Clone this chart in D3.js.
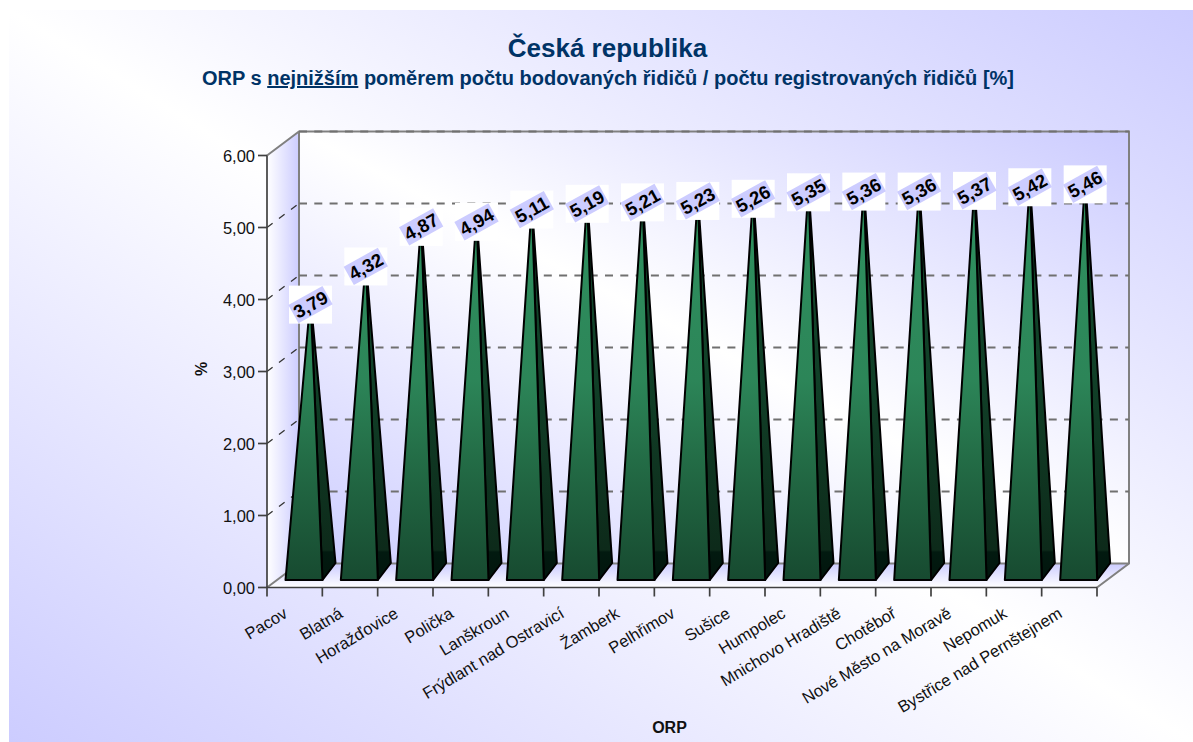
<!DOCTYPE html>
<html><head><meta charset="utf-8">
<script src="https://cdn.jsdelivr.net/npm/d3@7/dist/d3.min.js"></script>
<style>html,body{margin:0;padding:0;background:#fff}svg{display:block}text{font-family:"Liberation Sans",Arial,sans-serif}</style>
</head><body><svg id="c" width="1193" height="742"></svg>
<script>
const categories = ["Pacov","Blatná","Horažďovice","Polička","Lanškroun","Frýdlant nad Ostravicí","Žamberk","Pelhřimov","Sušice","Humpolec","Mnichovo Hradiště","Chotěboř","Nové Město na Moravě","Nepomuk","Bystřice nad Pernštejnem"];
const values = [3.79,4.32,4.87,4.94,5.11,5.19,5.21,5.23,5.26,5.35,5.36,5.36,5.37,5.42,5.46];
const yTicks = [0,1,2,3,4,5,6];
const titleText = "Česká republika";
const subtitleParts = ["ORP s ","nejnižším"," poměrem počtu bodovaných řidičů / počtu registrovaných řidičů [%]"];
const xTitle = "ORP", yTitle = "%";

const fmt = v => v.toFixed(2).replace(".", ",");
const svg = d3.select("#c"), defs = svg.append("defs");
const left = 267, right = 1097, y0 = 587.5, y6 = 155.5, dx = 32, dy = 24;
const x = d3.scaleBand().domain(categories).range([left, right]).paddingInner(0).paddingOuter(0);
const y = d3.scaleLinear().domain([0, 6]).range([y0, y6]);
const barInset = 18.5, barW = 37, barDx = 13, barDy = 17, baseY = y0 - 7.5;

function grad(id, stops, a) {
  const g = defs.append("linearGradient").attr("id", id);
  Object.entries(a).forEach(([k, v]) => g.attr(k, v));
  stops.forEach(s => g.append("stop").attr("offset", s[0]).attr("stop-color", s[1]));
}
const anti = {x1:0,y1:1,x2:1,y2:0};
const us = {gradientUnits:"userSpaceOnUse",x1:0,x2:0,y1:180,y2:580};
grad("bg", [[0,"#ccccff"],[.5,"#ffffff"],[1,"#ccccff"]], anti);
grad("wall", [[0,"#ccccff"],[.5,"#ffffff"],[1,"#ccccff"]], anti);
grad("lwall", [[0,"#ffffff"],[1,"#ccccff"]], {x1:0,y1:0,x2:1,y2:0});
grad("floor", [[0,"#ccccff"],[1,"#ffffff"]], {x1:0,y1:0,x2:0,y2:1});
grad("front", [[0,"#2f9260"],[.5,"#2c8558"],[.7,"#236c46"],[1,"#174a30"]], us);
grad("side", [[0,"#14492d"],[.5,"#114028"],[.925,"#0d2a1a"],[.93,"#021a10"],[1,"#02150d"]], us);

svg.append("rect").attr("x",9).attr("y",10).attr("width",1184).attr("height",732).attr("fill","url(#bg)");

const bw = left + dx, bh = right + dx;
const poly = pts => "M" + pts.map(p => p.join(",")).join("L") + "Z";
svg.append("path").attr("d", poly([[bw,y(6)-dy],[bh,y(6)-dy],[bh,y0-dy],[bw,y0-dy]])).attr("fill","url(#wall)");
svg.append("path").attr("d", poly([[left,y(6)],[bw,y(6)-dy],[bw,y0-dy],[left,y0]])).attr("fill","url(#lwall)");
svg.append("path").attr("d", poly([[left,y0],[bw,y0-dy],[bh,y0-dy],[right,y0]])).attr("fill","url(#floor)");

// wall edges
const edges = svg.append("g").attr("fill","none").attr("stroke","#808080").attr("stroke-width",2);
edges.append("path").attr("d", `M${left},${y(6)}L${bw},${y(6)-dy}L${bh},${y(6)-dy}L${bh},${y0-dy}L${right},${y0}`);
edges.append("path").attr("d", `M${left},${y0}L${bw},${y0-dy}L${bh},${y0-dy}M${bw},${y(6)-dy}L${bw},${y0-dy}`);

// gridlines
const grid = svg.append("g").attr("fill","none").attr("stroke","#707070").attr("stroke-width",2);
yTicks.slice(1).forEach(t => {
  grid.append("line").attr("x1",bw).attr("x2",bh).attr("y1",y(t)-dy).attr("y2",y(t)-dy).attr("stroke-dasharray","8 7.3");
  if (t < 6) grid.append("line").attr("x1",left).attr("x2",bw).attr("y1",y(t)).attr("y2",y(t)-dy).attr("stroke","#333").attr("stroke-width",1.3).attr("stroke-dasharray","7 8");
});

// axes
const axis = svg.append("g").attr("stroke","#404040").attr("stroke-width",1.7).attr("fill","none");
axis.append("line").attr("x1",left).attr("x2",left).attr("y1",y(6)).attr("y2",y0+9);
axis.append("line").attr("x1",left).attr("x2",right).attr("y1",y0).attr("y2",y0);
yTicks.forEach(t => {
  axis.append("line").attr("x1",left-9).attr("x2",left).attr("y1",y(t)).attr("y2",y(t));
  svg.append("text").attr("x",255).attr("y",y(t)+6).attr("text-anchor","end").attr("font-size",16.5).attr("fill","#111").text(fmt(t));
});
categories.forEach((c,i) => {
  const tx = x(c) + x.bandwidth();
  axis.append("line").attr("x1",tx).attr("x2",tx).attr("y1",y0).attr("y2",y0+9);
  const cx = x(c) + x.bandwidth()/2 - 6, cy = y0 + 29;
  svg.append("text").attr("transform",`translate(${cx},${cy}) rotate(-31)`).attr("text-anchor","end").attr("font-size",16.5).attr("fill","#111").text(c);
});

// pyramids
const bars = svg.append("g").attr("stroke","#000").attr("stroke-width",2).attr("stroke-linejoin","round");
values.forEach((v,i) => {
  const c = categories[i], fl = x(c) + barInset, fr = fl + barW;
  const ax = fl + barW/2 + barDx/2, ay = y(v) - 16;
  const g = bars.append("g");
  g.append("path").attr("d", poly([[fr,baseY],[fr+barDx,baseY-barDy],[ax,ay]])).attr("fill","url(#side)");
  g.append("path").attr("d", poly([[fl,baseY],[fr,baseY],[ax,ay]])).attr("fill","url(#front)");
});

// value labels
const labels = svg.append("g");
values.forEach((v,i) => {
  const c = categories[i];
  const cx = x(c) + barInset + barW/2 + barDx/2, cy = y(v) - 10;
  labels.append("rect").attr("x",cx-21.5).attr("y",cy-19).attr("width",43).attr("height",38).attr("fill","#fff");
  labels.append("rect").attr("x",-19.5).attr("y",-10.5).attr("width",39).attr("height",21).attr("transform",`translate(${cx},${cy}) rotate(-29)`).attr("fill","#ccccff");
  labels.append("text").attr("transform",`translate(${cx},${cy}) rotate(-29)`).attr("y",6.5).attr("text-anchor","middle").attr("font-size",18.5).attr("font-weight","bold").attr("fill","#000").text(fmt(v));
});

// titles
svg.append("text").attr("x",607.5).attr("y",57).attr("text-anchor","middle").attr("font-size",26).attr("font-weight","bold").attr("fill","#003366").text(titleText);
const st = svg.append("text").attr("x",608).attr("y",85).attr("text-anchor","middle").attr("font-size",20).attr("font-weight","bold").attr("fill","#003366");
subtitleParts.forEach((p,i) => st.append("tspan").attr("text-decoration", i===1 ? "underline" : null).style("white-space","pre").text(p));
svg.append("text").attr("x",669.5).attr("y",733).attr("text-anchor","middle").attr("font-size",16).attr("font-weight","bold").attr("fill","#111").text(xTitle);
svg.append("text").attr("transform","translate(207,369) rotate(-90)").attr("text-anchor","middle").attr("font-size",16).attr("font-weight","bold").attr("fill","#111").text(yTitle);
</script></body></html>
